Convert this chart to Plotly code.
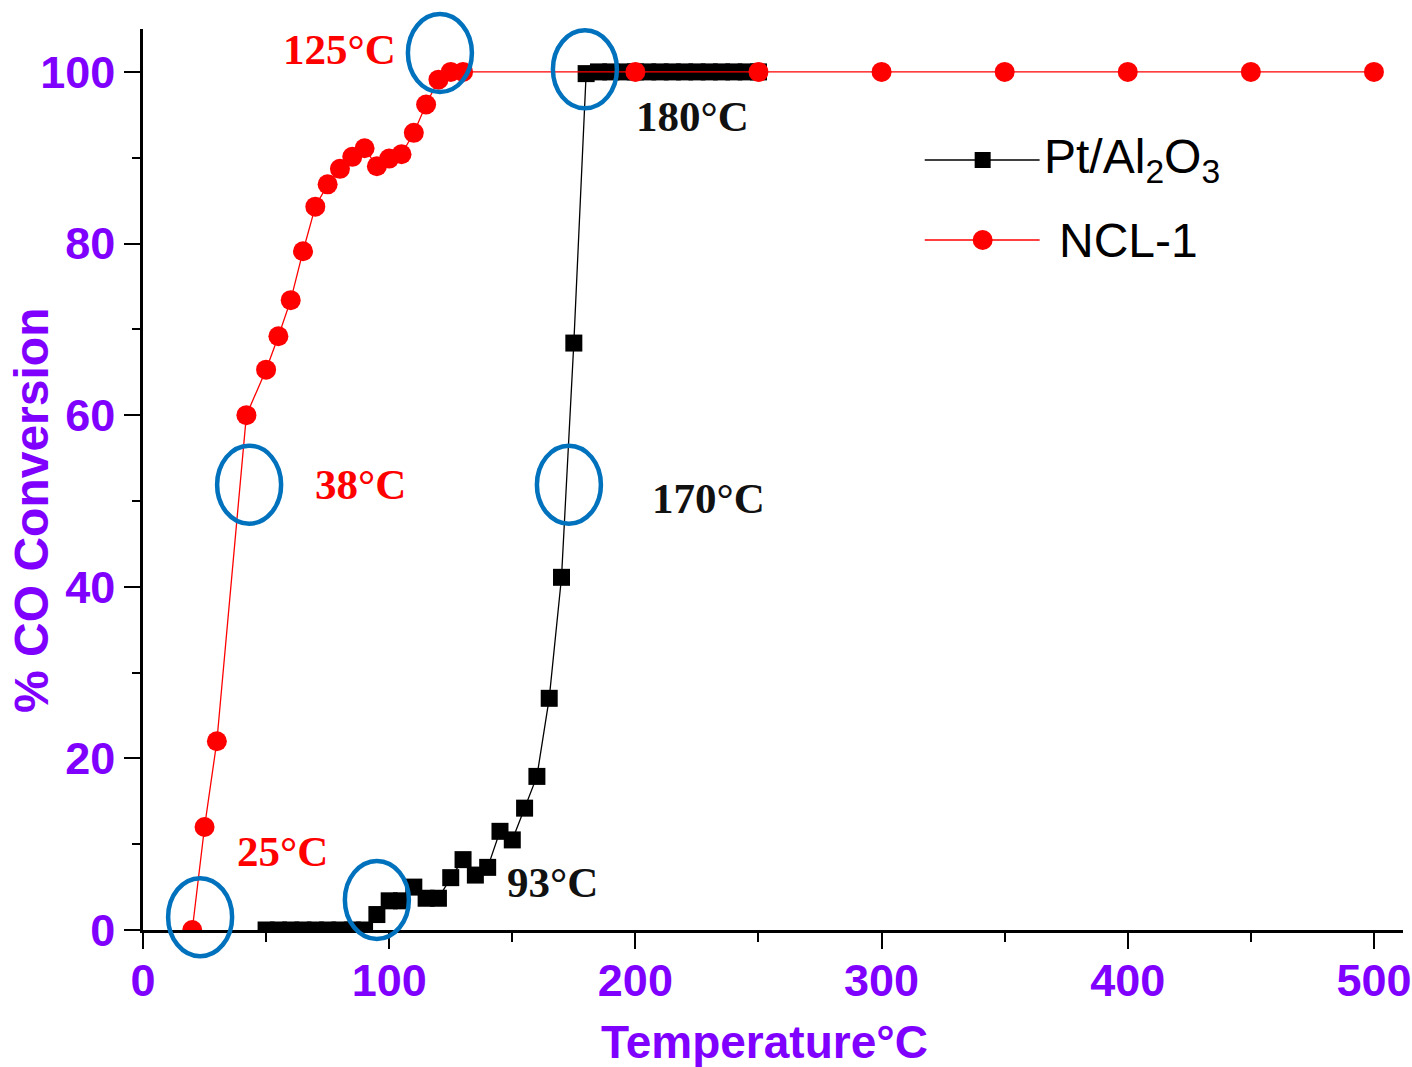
import plotly.graph_objects as go

# ---- data ----
ncl_temp = [20, 25, 30, 42, 50, 55, 60, 65, 70, 75, 80, 85, 90, 95, 100, 105,
            110, 115, 120, 125, 130, 200, 250, 300, 350, 400, 450, 500]
ncl_conv = [0, 12.0, 22.0, 60.0, 65.3, 69.2, 73.4, 79.1, 84.3, 86.9, 88.7, 90.1,
            91.1, 89.0, 89.9, 90.4, 92.9, 96.2, 99.1, 100, 100, 100, 100, 100,
            100, 100, 100, 100]

pt_temp = [50, 55, 60, 65, 70, 75, 80, 85, 90, 95, 100, 105, 110, 115, 120, 125,
           130, 135, 140, 145, 150, 155, 160, 165, 170, 175, 180, 185, 190, 195,
           200, 205, 210, 215, 220, 225, 230, 235, 240, 245, 250]
pt_conv = [0, 0, 0, 0, 0, 0, 0, 0, 0, 1.8, 3.4, 3.4, 5.0, 3.7, 3.7, 6.1,
           8.2, 6.4, 7.3, 11.5, 10.5, 14.2, 17.9, 27.0, 41.1, 68.4, 99.8, 100, 100, 100,
           100, 100, 100, 100, 100, 100, 100, 100, 100, 100, 100]

x_ticks = [0, 100, 200, 300, 400, 500]
y_ticks = [0, 20, 40, 60, 80, 100]

# temperature labels and highlighted points (temperature, conversion)
labels = [
    ("125°C", 80.0, 102.6, "#ff0000"),
    ("38°C", 88.5, 51.9, "#ff0000"),
    ("25°C", 56.5, 9.2, "#ff0000"),
    ("93°C", 166.5, 5.5, "#111111"),
    ("170°C", 229.5, 50.3, "#111111"),
    ("180°C", 223.0, 94.8, "#111111"),
]
highlights = [(23.2, 1.5), (95.0, 3.5), (43.1, 51.9), (120.6, 102.2), (179.5, 100.3), (173.0, 51.9)]

X_RANGE = [0, 511.8]
Y_RANGE = [0, 105.0]

PURPLE = "#8000ff"
BLUE = "#0072bd"
SANS = "Arial, Liberation Sans, sans-serif"
SERIF = "Times New Roman, Liberation Serif, serif"


def px(t):
    return (t - X_RANGE[0]) / (X_RANGE[1] - X_RANGE[0])


def py(c):
    return (c - Y_RANGE[0]) / (Y_RANGE[1] - Y_RANGE[0])


fig = go.Figure()

fig.add_trace(go.Scatter(
    x=pt_temp, y=pt_conv, mode="lines+markers", name="Pt/Al2O3",
    line=dict(color="black", width=1.3),
    marker=dict(symbol="square", size=17, color="black"),
))
fig.add_trace(go.Scatter(
    x=ncl_temp, y=ncl_conv, mode="lines+markers", name="NCL-1",
    line=dict(color="#ff0000", width=1.3),
    marker=dict(symbol="circle", size=20, color="#ff0000"),
))

shapes = []
for t, c in highlights:
    shapes.append(dict(
        type="circle", xref="paper", yref="paper",
        xsizemode="pixel", ysizemode="pixel",
        xanchor=px(t), yanchor=py(c),
        x0=-32, x1=32, y0=-39, y1=39,
        line=dict(color=BLUE, width=4.5),
    ))

# legend drawn by hand: long sample lines with a marker in the middle
leg_x0, leg_x1, leg_xm = 0.6204, 0.7116, 0.6664
row1, row2 = 0.8546, 0.7658
shapes += [
    dict(type="line", xref="paper", yref="paper", x0=leg_x0, x1=leg_x1, y0=row1, y1=row1,
         line=dict(color="black", width=1.3)),
    dict(type="rect", xref="paper", yref="paper", xsizemode="pixel", ysizemode="pixel",
         xanchor=leg_xm, yanchor=row1, x0=-8, x1=8, y0=-8, y1=8,
         fillcolor="black", line=dict(width=0)),
    dict(type="line", xref="paper", yref="paper", x0=leg_x0, x1=leg_x1, y0=row2, y1=row2,
         line=dict(color="#ff0000", width=1.3)),
    dict(type="circle", xref="paper", yref="paper", xsizemode="pixel", ysizemode="pixel",
         xanchor=leg_xm, yanchor=row2, x0=-10, x1=10, y0=-10, y1=10,
         fillcolor="#ff0000", line=dict(width=0)),
]

annotations = []
for text, t, c, col in labels:
    annotations.append(dict(
        x=t, y=c, xref="x", yref="y", text=text, showarrow=False,
        xanchor="center", yanchor="middle",
        font=dict(family=SERIF, size=43, color=col, weight="bold"),
    ))
annotations += [
    dict(x=0.7135, y=row1, xref="paper", yref="paper",
         text="Pt/Al<sub>2</sub>O<sub>3</sub>", showarrow=False,
         xanchor="left", yanchor="middle", font=dict(family=SANS, size=48, color="black")),
    dict(x=0.7254, y=row2, xref="paper", yref="paper", text="NCL-1", showarrow=False,
         xanchor="left", yanchor="middle", font=dict(family=SANS, size=48, color="black")),
    # axis titles
    dict(x=0.4929, y=-0.1243, xref="paper", yref="paper", text="Temperature°C",
         showarrow=False, xanchor="center", yanchor="middle",
         font=dict(family=SANS, size=46, color=PURPLE, weight="bold")),
    dict(x=-0.0881, y=0.4662, xref="paper", yref="paper", text="% CO Conversion",
         showarrow=False, xanchor="center", yanchor="middle", textangle=-90,
         font=dict(family=SANS, size=48, color=PURPLE, weight="bold")),
]

axis_common = dict(
    showgrid=False, zeroline=False, showline=True, linecolor="black", linewidth=2.5,
    ticks="outside", ticklen=16, tickwidth=2, tickcolor="black", automargin=False,
    tickfont=dict(family=SANS, size=45, color=PURPLE, weight="bold"),
)

fig.update_layout(
    width=1412, height=1067,
    margin=dict(l=143, r=9, t=29, b=137, autoexpand=False),
    paper_bgcolor="white", plot_bgcolor="white",
    showlegend=False,
    shapes=shapes, annotations=annotations,
    xaxis=dict(
        range=X_RANGE, tickvals=x_ticks, ticktext=[str(v) for v in x_ticks],
        minor=dict(dtick=50, tick0=0, ticks="outside", ticklen=9, tickwidth=2, tickcolor="black"),
        ticklabelstandoff=-7,
        **axis_common,
    ),
    yaxis=dict(
        range=Y_RANGE, tickvals=y_ticks, ticktext=[str(v) for v in y_ticks],
        minor=dict(dtick=10, tick0=0, ticks="outside", ticklen=8, tickwidth=2, tickcolor="black"),
        **axis_common,
    ),
)

fig.write_html("out.html")
